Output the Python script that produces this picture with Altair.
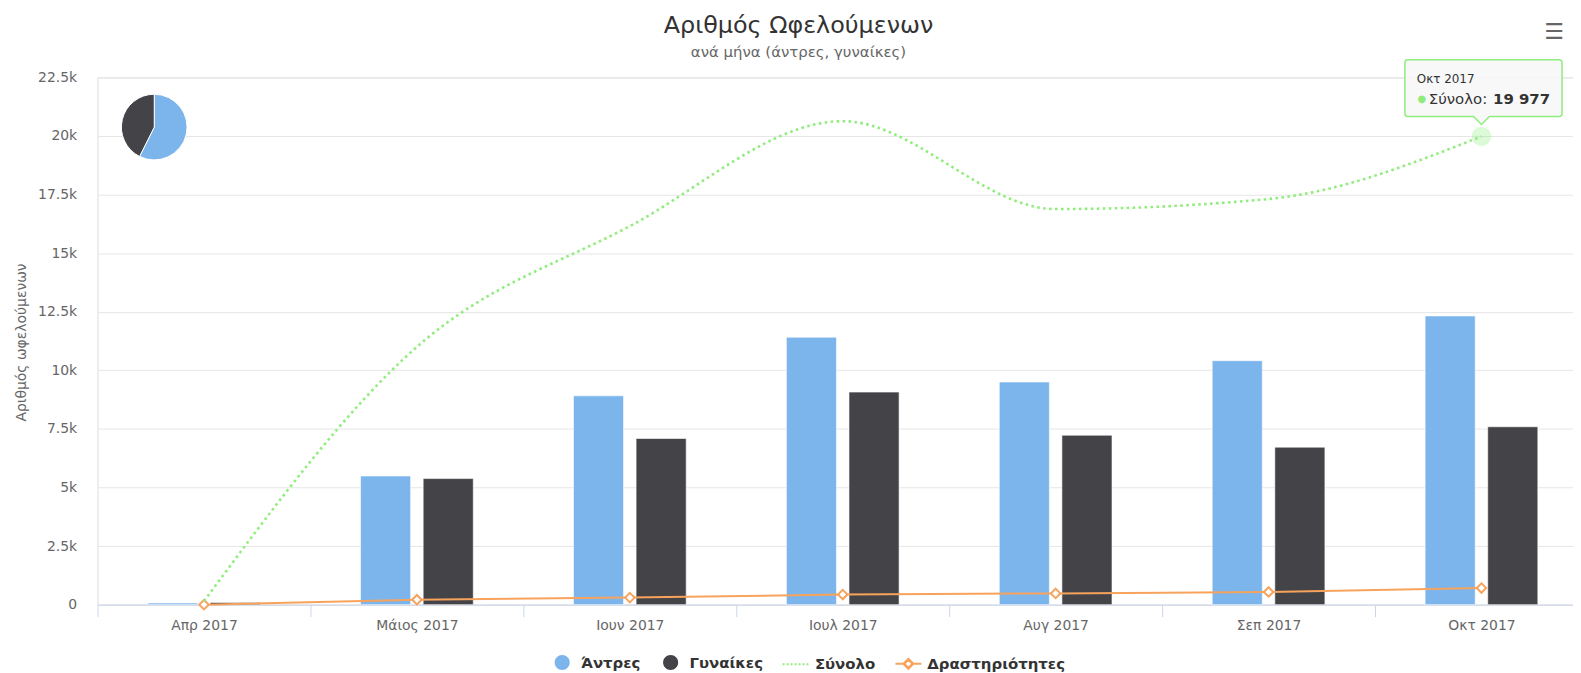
import altair as alt
import pandas as pd

# ---------------- data ----------------
months = ["Απρ 2017", "Μάιος 2017", "Ιουν 2017", "Ιουλ 2017", "Αυγ 2017", "Σεπ 2017", "Οκτ 2017"]
men = [70, 5490, 8910, 11410, 9500, 10410, 12320]
women = [90, 5380, 7090, 9070, 7230, 6720, 7590]
total = [150, 11000, 16150, 20630, 16880, 17310, 19977]
activities = [0, 210, 300, 430, 480, 540, 710]
series_names = ["Άντρες", "Γυναίκες", "Σύνολο", "Δραστηριότητες"]
series_colors = ["#7cb5ec", "#434348", "#90ed7d", "#f7a35c"]
y_ticks = [0, 2500, 5000, 7500, 10000, 12500, 15000, 17500, 20000, 22500]
title_text = "Αριθμός Ωφελούμενων"
subtitle_text = "ανά μήνα (άντρες, γυναίκες)"
y_title = "Αριθμός ωφελούμενων"

FONT = "DejaVu Sans"

bars_df = pd.DataFrame({
    "month": months * 2,
    "series": [series_names[0]] * len(months) + [series_names[1]] * len(months),
    "value": men + women,
    "rank": [0] * len(months) + [1] * len(months),
})
total_df = pd.DataFrame({"month": months, "value": total})
act_df = pd.DataFrame({"month": months, "value": activities})

# ---------------- scales / axes ----------------
color_scale = alt.Scale(domain=series_names, range=series_colors)
x_scale = alt.Scale(paddingInner=0, paddingOuter=0, range=[0, 1498])
y_scale = alt.Scale(domain=[0, 22500], nice=False)

x_axis = alt.Axis(
    title=None, tickBand="extent", tickSize=12, tickColor="#ccd6eb", domainColor="#ccd6eb",
    labelColor="#666666", labelFontSize=14, labelFont=FONT, labelPadding=2, grid=False, labelAngle=0,
)
y_axis = alt.Axis(
    title=y_title, values=y_ticks,
    labelExpr="datum.value == 0 ? '0' : format(datum.value / 1000, '~g') + 'k'",
    ticks=False, tickSize=0, domain=False, grid=True, gridColor="#e6e6e6",
    labelPadding=21, labelColor="#666666", labelFontSize=14, labelFont=FONT,
    titleFont=FONT, titleFontSize=14, titleFontWeight="normal", titleColor="#666666",
    titleX=-76, titleY=266, titleAlign="center", titleBaseline="middle", titleAngle=-90,
)

x_enc = alt.X("month:N", sort=months, scale=x_scale, axis=x_axis)
y_enc = alt.Y("value:Q", scale=y_scale, axis=y_axis)


def pick(values, default):
    expr = default
    for name, val in reversed(list(zip(series_names, values))):
        if val is None:
            continue
        expr = f"datum.value === '{name}' ? {val} : ({expr})"
    return expr


circle_path = "M0.54,0A0.54,0.54,0,1,1,-0.54,0A0.54,0.54,0,1,1,0.54,0Z"
line_path = "M-0.96,0L0.96,0"
line_diamond_path = ("M-0.93,0L-0.36,0M0.36,0L0.93,0"
                     "M0,-0.36L0.36,0L0,0.36L-0.36,0Z"
                     "M0,-0.29L-0.29,0L0,0.29L0.29,0Z")

legend = alt.Legend(
    title=None, orient="none", direction="horizontal", legendX=452, legendY=573,
    symbolSize=784, labelFontSize=15, labelFontWeight="bold", labelColor="#333333",
    labelFont=FONT, columnPadding=15, labelOffset=4,
    symbolType=alt.ExprRef(expr=pick([f"'{circle_path}'", f"'{circle_path}'", f"'{line_path}'",
                                      f"'{line_diamond_path}'"], "'circle'")),
    symbolFillColor=alt.ExprRef(expr=pick([f"'{series_colors[0]}'", f"'{series_colors[1]}'",
                                           "'transparent'", "'#ffffff'"], "'transparent'")),
    symbolStrokeColor=alt.ExprRef(expr=pick([None, None, f"'{series_colors[2]}'",
                                             f"'{series_colors[3]}'"], "'transparent'")),
    symbolStrokeWidth=2,
    symbolDash=alt.ExprRef(expr=pick([None, None, "[2, 2]", None], "[]")),
    symbolOpacity=1,
)

# ---------------- layers ----------------
bars = alt.Chart(bars_df).mark_bar(stroke="white", strokeWidth=1, strokeOpacity=0.6).encode(
    x=x_enc,
    xOffset=alt.XOffset("series:N", sort=series_names[:2],
                        scale=alt.Scale(paddingInner=0.2, paddingOuter=0.8)),
    y=y_enc,
    color=alt.Color("series:N", scale=color_scale, legend=legend),
)

act_line = alt.Chart(act_df).mark_line(color=series_colors[3], strokeWidth=2).encode(x=x_enc, y=y_enc)
act_pts = alt.Chart(act_df).mark_point(
    shape="diamond", filled=True, fill="white", stroke=series_colors[3], strokeWidth=2,
    size=90, opacity=1,
).encode(x=x_enc, y=y_enc)

total_line = alt.Chart(total_df).mark_line(
    color=series_colors[2], strokeWidth=2.6, strokeDash=[2.6, 3.4], interpolate="monotone"
).encode(x=x_enc, y=y_enc)

pie = alt.Chart(bars_df).mark_arc(outerRadius=33, stroke="white", strokeWidth=1).encode(
    theta=alt.Theta("sum(value):Q", stack=True),
    color=alt.Color("series:N", scale=color_scale, legend=None),
    order=alt.Order("rank:Q", sort="ascending"),
    x=alt.value(57),
    y=alt.value(50),
)

last = f"datum.month === '{months[-1]}'"
tip_base = alt.Chart(total_df).transform_filter(last)

halo = tip_base.mark_circle(size=380, color=series_colors[2], opacity=0.3).encode(x=x_enc, y=y_enc)
callout = ("M-74,-77L78,-77Q81,-77,81,-74L81,-23Q81,-20,78,-20L8,-20L0,-12L-8,-20"
           "L-74,-20Q-77,-20,-77,-23L-77,-74Q-77,-77,-74,-77Z")
box = tip_base.mark_point(
    shape=callout, size=4, filled=True, fill="#f7f7f7", fillOpacity=0.9,
    stroke=series_colors[2], strokeWidth=1.5, opacity=1,
).encode(x=x_enc, y=y_enc)
tip_month = tip_base.mark_text(
    align="left", baseline="middle", dx=-65, dy=-58, fontSize=12, font=FONT, color="#333333"
).encode(x=x_enc, y=y_enc, text="month:N")
tip_dot = tip_base.mark_text(
    align="center", baseline="middle", dx=-60, dy=-38, fontSize=10, font=FONT,
    color=series_colors[2], text="●"
).encode(x=x_enc, y=y_enc)
tip_name = tip_base.mark_text(
    align="left", baseline="middle", dx=-53, dy=-38, fontSize=15, font=FONT, color="#333333",
    text=series_names[2] + ":"
).encode(x=x_enc, y=y_enc)
tip_val = tip_base.transform_calculate(
    label="replace(format(datum.value, ','), ',', ' ')"
).mark_text(
    align="right", baseline="middle", dx=69, dy=-38, fontSize=15, font=FONT, fontWeight="bold",
    color="#333333"
).encode(x=x_enc, y=y_enc, text="label:N")

menu = tip_base.mark_text(
    text="☰", fontSize=22, font=FONT, fontWeight="bold", color="#666666",
    align="center", baseline="middle"
).encode(x=alt.value(1464), y=alt.value(-46))

chart = alt.layer(
    bars, act_line, act_pts, total_line, pie, halo, box, tip_month, tip_dot, tip_name, tip_val, menu
).properties(
    width=1483,
    height=530,
    padding={"left": 90, "top": 68, "right": 0, "bottom": 67},
    autosize=alt.AutoSizeParams(type="none"),
    title=alt.TitleParams(
        text=title_text, subtitle=subtitle_text, anchor="middle", dx=-37, dy=56,
        fontSize=24, font=FONT, fontWeight="normal", color="#333333",
        subtitleFontSize=15, subtitleFont=FONT, subtitleColor="#666666",
        offset=16, subtitlePadding=8,
    ),
).configure_view(stroke=None).configure(background="white")

chart.save("out.html", embed_options={"renderer": "svg", "actions": False})
